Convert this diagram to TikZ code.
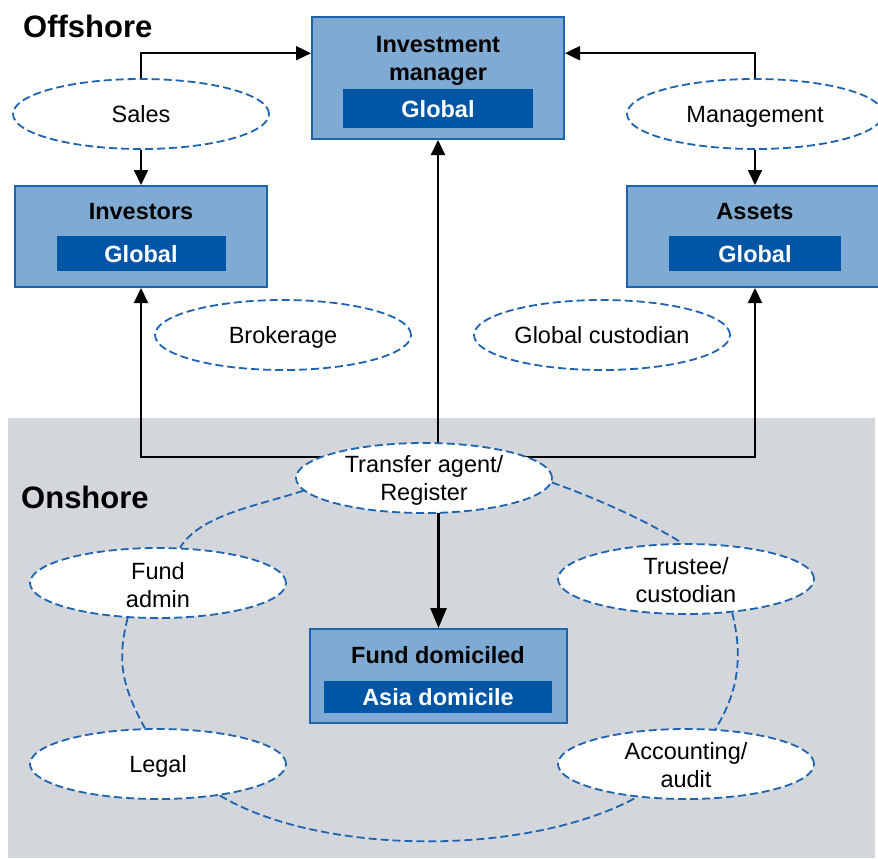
\documentclass[tikz,border=0pt]{standalone}
\usepackage{fontspec}
\setmainfont{Liberation Sans}
\usetikzlibrary{arrows.meta,shapes.geometric,calc}
\definecolor{boxfill}{HTML}{7FAAD3}
\definecolor{boxline}{HTML}{1E63B0}
\definecolor{innerfill}{HTML}{0055A5}
\definecolor{dashblue}{HTML}{1E63B0}
\definecolor{onshorebg}{HTML}{D3D6DB}
\pgfdeclarelayer{bg}
\pgfdeclarelayer{mid}
\pgfsetlayers{bg,mid,main}
\begin{document}
\begin{tikzpicture}[x=1pt,y=1pt,
  txt/.style={font=\fontsize{23.5}{28}\selectfont, align=center, inner sep=0pt},
  btxt/.style={font=\fontsize{23.5}{28}\selectfont\bfseries, align=center, inner sep=0pt},
  wtxt/.style={font=\fontsize{23.5}{28}\selectfont\bfseries, text=white, inner sep=0pt, text depth=0pt},
  htxt/.style={font=\fontsize{31}{36}\selectfont\bfseries, inner sep=0pt},
  box/.style={rectangle, draw=boxline, fill=boxfill, line width=2pt},
  innerbox/.style={rectangle, fill=innerfill, draw=none},
  oval/.style={ellipse, draw=dashblue, dash pattern=on 8pt off 4pt, line width=1.8pt,
    fill=white, minimum width=256pt, minimum height=70pt, inner sep=0pt,
    font=\fontsize{23.5}{28}\selectfont, text depth=0pt},
  dashlink/.style={draw=dashblue, dash pattern=on 8pt off 4pt, line width=1.8pt},
  arr/.style={line width=2pt, -{Triangle[length=15pt,width=14pt]}},
  bigarr/.style={line width=2.6pt, -{Triangle[length=20pt,width=16pt]}}
]
\useasboundingbox (0,0) rectangle (878,-859);
\begin{pgfonlayer}{bg}
  \fill[onshorebg] (8,-418) rectangle (875,-858);
\end{pgfonlayer}

% headings
\node[htxt, anchor=west] (off) at (23,-26) {Offshore};
\node[htxt, anchor=west] (on) at (21,-497) {Onshore};

% boxes
\node[box, minimum width=252pt, minimum height=122pt] (im) at (438,-78) {};
\node[innerbox, minimum width=190pt, minimum height=39pt] (imin) at (438,-108.5) {};
\node[btxt] (imt) at (438,-61) {Investment\\manager};
\node[wtxt] (img) at (imin) {Global};

\node[box, minimum width=252pt, minimum height=101pt] (inv) at (141,-236.5) {};
\node[innerbox, minimum width=169pt, minimum height=35pt] (invin) at (141,-253.5) {};
\node[btxt] (invt) at (141,-212) {Investors};
\node[wtxt] (invg) at (invin) {Global};

\node[box, minimum width=256pt, minimum height=101pt] (assets) at (755,-236.5) {};
\node[innerbox, minimum width=172pt, minimum height=35pt] (asin) at (755,-253.5) {};
\node[btxt] (ast) at (755,-212) {Assets};
\node[wtxt] (asg) at (asin) {Global};

\node[box, minimum width=257pt, minimum height=94pt] (fd) at (438.5,-676) {};
\node[innerbox, minimum width=228pt, minimum height=32pt] (fdin) at (438,-697) {};
\node[btxt] (fdt) at (438,-655) {Fund domiciled};
\node[wtxt] (fdg) at (fdin) {Asia domicile};

% ovals (single line)
\node[oval] (sales) at (141,-114) {Sales};
\node[oval] (mgmt) at (755,-114) {Management};
\node[oval] (brok) at (283,-335) {Brokerage};
\node[oval] (gcust) at (602,-335) {Global custodian};
\node[oval] (legal) at (158,-764) {Legal};
% ovals (two lines)
\node[oval] (ta) at (424,-478) {};
\node[txt] (tat) at ($(ta)+(0,-2.5)$) {Transfer agent/\\Register};
\node[oval] (fa) at (158,-583) {};
\node[txt] (fat) at ($(fa)+(0,-2.5)$) {Fund\\admin};
\node[oval] (tr) at (686,-579) {};
\node[txt] (trt) at ($(tr)+(0,-1.5)$) {Trustee/\\custodian};
\node[oval] (acc) at (686,-764) {};
\node[txt] (acct) at ($(acc)+(0,-1.5)$) {Accounting/\\audit};

% arrows
\begin{pgfonlayer}{mid}
  \draw[arr] (sales.north) |- ($(im.north west)!0.3!(im.south west)$);
  \draw[arr] (mgmt.north) |- ($(im.north east)!0.3!(im.south east)$);
  \draw[arr] (sales.south) -- (sales.south |- inv.north);
  \draw[arr] (mgmt.south) -- (mgmt.south |- assets.north);
  \draw[arr] (im.south |- ta.center) -- (im.south);
  \draw[arr] ($(ta.north)!0.21!(ta.south)$) -| (inv.south);
  \draw[arr] ($(ta.north)!0.21!(ta.south)$) -| (assets.south);
  \draw[bigarr] (fd.north |- ta.center) -- (fd.north);
\end{pgfonlayer}

% dashed ring
\draw[dashlink] (ta.186) .. controls +(-45,-15) and +(20,33) .. (fa.58);
\draw[dashlink] (ta.358) .. controls +(45,-16) and +(-35,22) .. (tr.96);
\draw[dashlink] (fa.229) .. controls +(-10,-40) and +(-25,45) .. (legal.110);
\draw[dashlink] (legal.333) .. controls +(100,-60) and +(-110,-60) .. (acc.214);
\draw[dashlink] (tr.324) .. controls +(10,-40) and +(25,40) .. (acc.50);
\end{tikzpicture}
\end{document}
